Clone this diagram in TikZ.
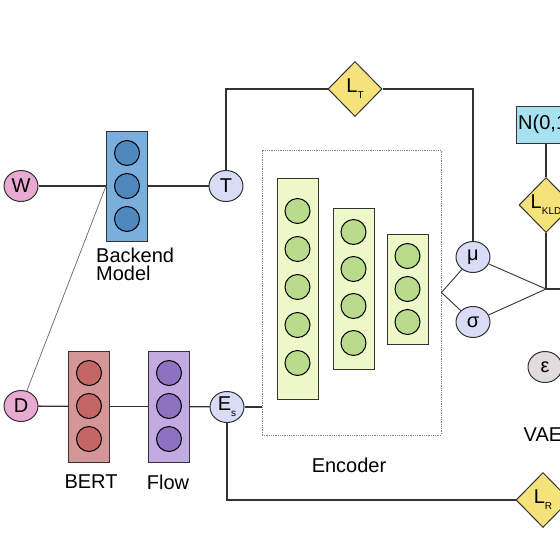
\documentclass[tikz,border=0pt]{standalone}
\usepackage{fontspec}
\setmainfont{Liberation Sans}
\usetikzlibrary{shapes.geometric}
\definecolor{darkline}{HTML}{333333}
\definecolor{inpink}{HTML}{E8AAD2}
\definecolor{varblue}{HTML}{D8DCF6}
\definecolor{backblue}{HTML}{7AAEDC}
\definecolor{backdark}{HTML}{4E88BC}
\definecolor{bertred}{HTML}{D49696}
\definecolor{bertdark}{HTML}{C46666}
\definecolor{flowpurple}{HTML}{C2AAE2}
\definecolor{flowdark}{HTML}{8C72C0}
\definecolor{encyellow}{HTML}{EEF8C8}
\definecolor{encgreen}{HTML}{B8DC8C}
\definecolor{lossyellow}{HTML}{F5E27A}
\definecolor{priorcyan}{HTML}{A8E2F0}
\definecolor{epsgray}{HTML}{E2DCDC}
\newcommand{\bigfont}{\fontsize{20}{18}\selectfont}
\newcommand{\unit}[4]{\node[neuron, fill=#4] (#1) at ( #2 , #3 ) {};}
\newcommand{\lsub}[2]{#1\raisebox{-6pt}{\fontsize{10}{10}\selectfont #2}}
\tikzset{
  neuron/.style={circle, draw=black, line width=1pt, minimum size=25pt, inner sep=0pt},
  layerbox/.style={rectangle, draw=darkline, line width=1pt, minimum width=41pt, inner sep=0pt},
  varnode/.style={ellipse, draw=darkline, line width=1pt, minimum width=34pt, minimum height=31pt, inner sep=0pt, font=\bigfont},
  lossnode/.style={diamond, draw=darkline, fill=lossyellow, line width=1pt, minimum width=54pt, minimum height=55pt, inner sep=0pt, font=\bigfont},
  txt/.style={inner sep=0pt, font=\bigfont},
  wire/.style={draw=darkline, line width=1.3pt},
  thinwire/.style={draw=darkline, line width=0.9pt}
}
\begin{document}
\begin{tikzpicture}[x=1pt,y=-1pt]
\useasboundingbox (0,0) rectangle (560,560);
\clip (0,0) rectangle (560,560);
% inputs
\node[varnode, fill=inpink] (W) at (21,186) {W};
\node[varnode, fill=inpink] (D) at (21,406) {D};
% backend model
\node[layerbox, fill=backblue, minimum height=110pt] (backend) at (127,186) {};
\unit{b1}{127}{153}{backdark}
\unit{b2}{127}{186}{backdark}
\unit{b3}{127}{219}{backdark}
\node[txt, anchor=north west, align=left] (backendtxt) at (96,248) {Backend\\Model};
% BERT
\node[layerbox, fill=bertred, minimum height=111pt] (bert) at (89,406.5) {};
\unit{r1}{89}{373}{bertdark}
\unit{r2}{89}{406}{bertdark}
\unit{r3}{89}{439}{bertdark}
\node[txt] (berttxt) at (91,482) {BERT};
% flow
\node[layerbox, fill=flowpurple, minimum height=111pt] (flow) at (169,406.5) {};
\unit{f1}{169}{373}{flowdark}
\unit{f2}{169}{406}{flowdark}
\unit{f3}{169}{439}{flowdark}
\node[txt] (flowtxt) at (168,482) {Flow};
% T and E_s
\node[varnode, fill=varblue] (T) at (226,186) {T};
\node[varnode, fill=varblue] (Es) at (227,407) {\lsub{E}{s}};
% encoder
\node[draw=gray, densely dotted, line width=0.8pt, minimum width=179pt, minimum height=285pt, inner sep=0pt] (encoder) at (351.5,292.5) {};
\node[layerbox, fill=encyellow, minimum height=221pt] (enc1) at (297.5,288.5) {};
\unit{e11}{297.5}{211}{encgreen}
\unit{e12}{297.5}{249}{encgreen}
\unit{e13}{297.5}{287}{encgreen}
\unit{e14}{297.5}{325}{encgreen}
\unit{e15}{297.5}{363}{encgreen}
\node[layerbox, fill=encyellow, minimum height=161pt] (enc2) at (353.5,288.5) {};
\unit{e21}{353.5}{232}{encgreen}
\unit{e22}{353.5}{269}{encgreen}
\unit{e23}{353.5}{306}{encgreen}
\unit{e24}{353.5}{343}{encgreen}
\node[layerbox, fill=encyellow, minimum height=110pt] (enc3) at (407.5,289) {};
\unit{e31}{407.5}{256}{encgreen}
\unit{e32}{407.5}{289}{encgreen}
\unit{e33}{407.5}{322}{encgreen}
\node[txt] (enctxt) at (349,465) {Encoder};
% latent
\node[varnode, fill=varblue] (mu) at (473,257) {μ};
\node[varnode, fill=varblue] (sigma) at (473,322) {σ};
\node[varnode, fill=epsgray] (eps) at (545,367) {ε};
\coordinate (join) at (546,289);
\coordinate (out) at (580,289);
\node[txt] (vaetxt) at (543,435) {VAE};
% losses
\node[lossnode] (LT) at (355,89) {\lsub{L}{T}};
\node[lossnode] (LKLD) at (546,205) {\lsub{L}{KLD}};
\node[lossnode] (LR) at (543,500) {\lsub{L}{R}};
\node[draw=darkline, fill=priorcyan, line width=1pt, minimum width=60pt, minimum height=37pt, inner sep=0pt, font=\bigfont] (prior) at (546,124.5) {N(0,1)};
% connectors
\draw[wire] (W) -- (backend);
\draw[wire] (backend) -- (T);
\draw[draw=gray!80!black, line width=0.7pt] (D) -- (backend.west);
\draw[wire] (D) -- (bert);
\draw[wire] (bert) -- (flow);
\draw[wire] (flow) -- (Es);
\draw[wire] (Es) -- (Es -| encoder.west);
\draw[wire] (T) |- (LT);
\draw[wire] (LT) -| (mu);
\draw[thinwire] (encoder.east) -- (mu);
\draw[thinwire] (encoder.east) -- (sigma);
\draw[thinwire] (mu) -- (join);
\draw[thinwire] (sigma) -- (join);
\draw[wire] (join) -- (LKLD);
\draw[wire] (join) -- (out);
\draw[wire] (prior) -- (LKLD);
\draw[wire] (Es) |- (LR);
\end{tikzpicture}
\end{document}
